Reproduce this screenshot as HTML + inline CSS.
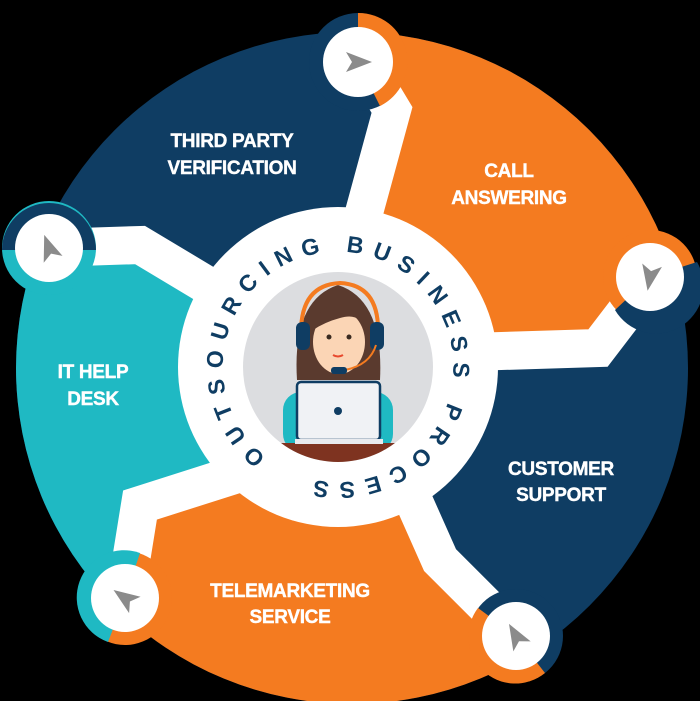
<!DOCTYPE html>
<html><head><meta charset="utf-8"><style>
html,body{margin:0;padding:0;background:#000;width:700px;height:701px;overflow:hidden}
svg{display:block}
.t{font-family:"Liberation Sans",sans-serif;font-weight:bold;font-size:19px;fill:#fff;text-anchor:middle;stroke:#fff;stroke-width:0.4;letter-spacing:-0.3px}
</style></head><body>
<svg width="700" height="701" viewBox="0 0 700 701" xmlns="http://www.w3.org/2000/svg">
<defs>
<clipPath id="big"><circle cx="352" cy="368" r="336"/></clipPath>
<clipPath id="gc"><circle cx="338" cy="367" r="95"/></clipPath>
<path id="arc" d="M 338 367 m -72 90 A 115.3 115.3 0 1 1 338.1 482.3 A 115.3 115.3 0 0 1 266 457"/>
<g id="arr"><path d="M-12,-10 L14,0 L-12,10 L-6,0 Z" fill="#8b8b8b"/></g>
</defs>
<rect width="700" height="701" fill="#000"/>
<g clip-path="url(#big)">
<rect width="700" height="701" fill="#0f3d63"/>
<polygon fill="#f47b20" points="362,215 390,110 400,0 700,0 700,300 640,300 598,345 480,350"/>
<polygon fill="#f47b20" points="400,470 440,560 515,630 560,720 100,720 130,600 140,505 240,470"/>
<polygon fill="#1fb9c3" points="240,470 140,505 125,600 105,650 0,650 0,254 50,254 140,245 240,300"/>
</g>
<g fill="none" stroke="#fff" stroke-width="38" stroke-linejoin="miter">
<polyline points="362,60 392,110 362,220"/>
<polyline points="650,280 598,348 470,352"/>
<polyline points="516,636 440,560 400,470"/>
<polyline points="125,598 140,505 250,470"/>
<polyline points="49,248 140,245 240,305"/>
</g>
<circle cx="338" cy="367" r="160" fill="#fff"/>
<circle cx="338" cy="367" r="95" fill="#dcdde0"/>
<g clip-path="url(#gc)">
<rect x="283" y="392" width="110" height="60" rx="18" fill="#1fb9c3"/>
<path d="M297,380 Q292,300 338,285 Q384,300 380,380 Z" fill="#5a3a2e"/>
<ellipse cx="339" cy="342" rx="26" ry="32" fill="#fbd5b5"/>
<path d="M313,330 Q320,300 345,305 Q360,310 366,330 Q360,312 340,318 Q325,322 313,330Z" fill="#5a3a2e"/>
<path d="M301,335 Q300,285 340,283 Q380,285 378,335" fill="none" stroke="#f47b20" stroke-width="4"/>
<rect x="296" y="322" width="14" height="28" rx="6" fill="#0f3d63"/>
<rect x="370" y="322" width="14" height="28" rx="6" fill="#0f3d63"/>
<path d="M376,345 Q370,365 345,370" fill="none" stroke="#f47b20" stroke-width="2"/>
<rect x="331" y="367" width="16" height="7" rx="3" fill="#0f3d63"/>
<circle cx="329" cy="337" r="2.5" fill="#3a2a20"/><circle cx="349" cy="337" r="2.5" fill="#3a2a20"/>
<path d="M333,355 Q338,358 343,355" stroke="#e84a2e" stroke-width="2" fill="none"/>
<rect x="297" y="382" width="83" height="58" rx="4" fill="#f0f2f5" stroke="#0f3d63" stroke-width="2.5"/>
<circle cx="338" cy="411" r="4" fill="#0f3d63"/>
<rect x="270" y="443" width="140" height="25" fill="#7e3320"/>
<rect x="295" y="439" width="88" height="5" fill="#e8eaee"/>
</g>
<text font-family="Liberation Sans,sans-serif" font-weight="bold" font-size="23" fill="#0f3d63"><textPath href="#arc" textLength="670" lengthAdjust="spacing">OUTSOURCING  BUSINESS  PROCESS</textPath></text>
<g>
<circle cx="358" cy="62" r="49" fill="#0f3d63"/><path d="M358,13 A49,49 0 0 1 380,106 L358,62Z" fill="#f47b20"/>
<circle cx="358" cy="62" r="35" fill="#fff"/><use href="#arr" x="358" y="62"/>
<circle cx="650" cy="277" r="47" fill="#f47b20"/><path d="M697,262 A47,47 0 0 1 615,310 L650,277Z" fill="#0f3d63"/>
<circle cx="650" cy="277" r="34" fill="#fff"/><use href="#arr" transform="translate(650,277) rotate(100)"/>
<circle cx="516" cy="636" r="47" fill="#0f3d63"/><path d="M478,608 A47,47 0 0 0 545,673 L516,636Z" fill="#f47b20"/>
<circle cx="516" cy="636" r="34" fill="#fff"/><use href="#arr" transform="translate(516,636) rotate(-120)"/>
<circle cx="125" cy="598" r="47" fill="#f47b20"/><path d="M140,553 A47,47 0 0 0 108,642 L125,598Z" fill="#1fb9c3"/>
<circle cx="125" cy="598" r="34" fill="#fff"/><use href="#arr" transform="translate(125,598) rotate(-145)"/>
<circle cx="49" cy="248" r="47" fill="#1fb9c3"/><path d="M2,250 A47,47 0 0 1 96,250Z" fill="#0f3d63"/>
<circle cx="49" cy="248" r="34" fill="#fff"/><use href="#arr" transform="translate(49,248) rotate(-110)"/>
</g>
<text class="t" x="232" y="147">THIRD PARTY</text>
<text class="t" x="232" y="174">VERIFICATION</text>
<text class="t" x="509" y="177">CALL</text>
<text class="t" x="509" y="204">ANSWERING</text>
<text class="t" x="93" y="378">IT HELP</text>
<text class="t" x="93" y="405">DESK</text>
<text class="t" x="561" y="475">CUSTOMER</text>
<text class="t" x="561" y="501">SUPPORT</text>
<text class="t" x="290" y="597">TELEMARKETING</text>
<text class="t" x="290" y="623">SERVICE</text>
</svg>
</body></html>
